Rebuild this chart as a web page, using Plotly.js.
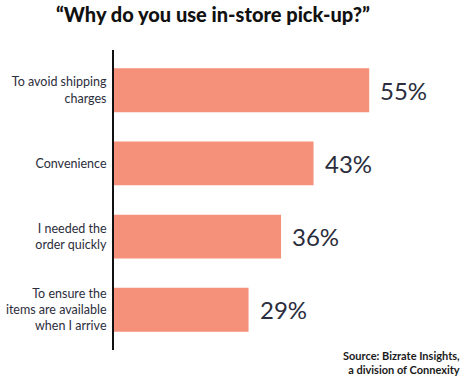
<!DOCTYPE html>
<html><head><meta charset="utf-8">
<script src="https://cdn.plot.ly/plotly-3.0.1.min.js"></script>
<style>html,body{margin:0;padding:0;background:#fff}#chart{width:470px;height:380px}</style>
</head><body><div id="chart"></div>
<script>
const categories = ["To avoid shipping<br>charges", "Convenience", "I needed the<br>order quickly", "To ensure the<br>items are available<br>when I arrive"];
const values = [55, 43, 36, 29];
const valueLabels = ["55%", "43%", "36%", "29%"];
const titleText = "“Why do you use in-store pick-up?”";
const sourceText = "Source: Bizrate Insights,<br>a division of Connexity";

const textColor = "#2b2d3c";
const data = [{
  type: "bar",
  orientation: "h",
  x: values,
  y: categories,
  marker: {color: "#f5907a"},
  hoverinfo: "none"
}];

const annotations = values.map((v, i) => ({
  x: v, y: categories[i], xref: "x", yref: "y",
  text: valueLabels[i], showarrow: false,
  xanchor: "left", yanchor: "middle", xshift: 9,
  font: {family: "Lato, 'Open Sans', sans-serif", size: 24, color: textColor}
}));
annotations.push({
  xref: "paper", yref: "paper", x: 1.0, y: 0.01,
  xanchor: "right", yanchor: "top", align: "right",
  text: sourceText, showarrow: false,
  font: {family: "Lato, 'Open Sans', sans-serif", size: 11, color: "#1a1a1a", weight: 700}
});

const layout = {
  width: 470, height: 380,
  margin: {l: 114, r: 8, t: 50, b: 30},
  paper_bgcolor: "#fff", plot_bgcolor: "#fff",
  title: {
    text: titleText, xref: "container", yref: "container",
    x: 0.453, xanchor: "center", y: 0.98, yanchor: "top",
    font: {family: "Lato, 'Open Sans', sans-serif", size: 20, color: "#111", weight: 900}
  },
  bargap: 0.4,
  xaxis: {range: [0, 75], visible: false, fixedrange: true},
  yaxis: {
    autorange: false, range: [3.55, -0.55],
    showline: true, linecolor: "#111", linewidth: 2,
    showgrid: false, zeroline: false, ticks: "",
    ticklabelstandoff: 3,
    tickfont: {family: "Lato, 'Open Sans', sans-serif", size: 12.5, color: textColor}
  },
  showlegend: false,
  annotations: annotations
};
Plotly.newPlot("chart", data, layout, {displayModeBar: false, staticPlot: true});
</script></body></html>
